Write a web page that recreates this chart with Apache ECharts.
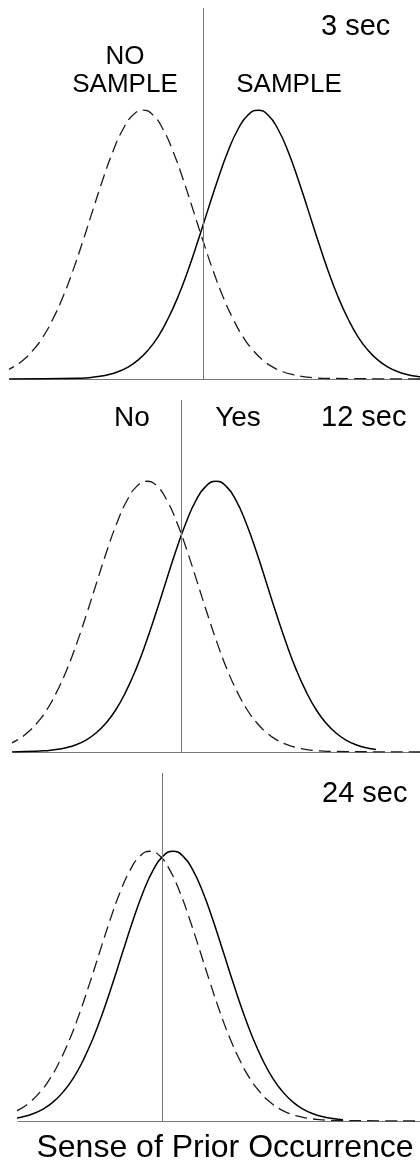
<!DOCTYPE html>
<html>
<head>
<meta charset="utf-8">
<script src="https://cdn.jsdelivr.net/npm/echarts@6/dist/echarts.min.js"></script>
<style>
html,body{margin:0;padding:0;background:#fff;}
#chart{width:420px;height:1164px;}
</style>
</head>
<body>
<div id="chart"></div>
<script>
// Panel titles and labels
const panelTitles = ['3 sec', '12 sec', '24 sec'];
const panel1Labels = ['NO\nSAMPLE', 'SAMPLE'];
const panel2Labels = ['No', 'Yes'];
const axisTitle = 'Sense of Prior Occurrence';

// criterion positions (x units)
const criteria = [20.3, 18.1, 16.2];

// Panel 1 (3 sec)
const p1NoX = [0.3,1.3,2.3,3.3,4.3,5.3,6.3,7.3,8.3,9.3,10.3,11.3,12.3,13.3,14.3,15.3,16.3,17.3,18.3,19.3,20.3,21.3,22.3,23.3,24.3,25.3,26.3,27.3,28.3,29.3,30.3,31.3,32.3,42];
const p1NoY = [2.7,4.4,7.0,10.7,15.7,22.4,30.6,40.4,51.4,63.0,74.4,84.7,92.9,98.2,100,98.2,92.9,84.7,74.4,63.0,51.4,40.4,30.6,22.4,15.7,10.7,7.0,4.4,2.7,1.6,0.9,0.5,0.25,0];
const p1YesX = [0.8,7.8,8.8,9.8,10.8,11.8,12.8,13.8,14.8,15.8,16.8,17.8,18.8,19.8,20.8,21.8,22.8,23.8,24.8,25.8,26.8,27.8,28.8,29.8,30.8,31.8,32.8,33.8,34.8,35.8,36.8,37.8,38.8,39.8,40.8,41.8,42.8];
const p1YesY = [0,0.25,0.5,0.9,1.6,2.7,4.4,7.0,10.7,15.7,22.4,30.6,40.4,51.4,63.0,74.4,84.7,92.9,98.2,100,98.2,92.9,84.7,74.4,63.0,51.4,40.4,30.6,22.4,15.7,10.7,7.0,4.4,2.7,1.6,0.9,0.5];

// Panel 2 (12 sec)
const p2NoX = [0.7,1.7,2.7,3.7,4.7,5.7,6.7,7.7,8.7,9.7,10.7,11.7,12.7,13.7,14.7,15.7,16.7,17.7,18.7,19.7,20.7,21.7,22.7,23.7,24.7,25.7,26.7,27.7,28.7,29.7,30.7,31.7,32.7,42];
const p2NoY = [2.7,4.4,7.0,10.7,15.7,22.4,30.6,40.4,51.4,63.0,74.4,84.7,92.9,98.2,100,98.2,92.9,84.7,74.4,63.0,51.4,40.4,30.6,22.4,15.7,10.7,7.0,4.4,2.7,1.6,0.9,0.5,0.25,0];
const p2YesX = [0.6,3.6,4.6,5.6,6.6,7.6,8.6,9.6,10.6,11.6,12.6,13.6,14.6,15.6,16.6,17.6,18.6,19.6,20.6,21.6,22.6,23.6,24.6,25.6,26.6,27.6,28.6,29.6,30.6,31.6,32.6,33.6,34.6,35.6,36.6,37.6];
const p2YesY = [0,0.25,0.5,0.9,1.6,2.7,4.4,7.0,10.7,15.7,22.4,30.6,40.4,51.4,63.0,74.4,84.7,92.9,98.2,100,98.2,92.9,84.7,74.4,63.0,51.4,40.4,30.6,22.4,15.7,10.7,7.0,4.4,2.7,1.6,0.9];

// Panel 3 (24 sec)
const p3NoX = [0,1,2,3,4,5,6,7,8,9,10,11,12,13,14,15,16,17,18,19,20,21,22,23,24,25,26,27,28,29,30,31,32,33,42];
const p3NoY = [1.6,2.7,4.4,7.0,10.7,15.7,22.4,30.6,40.4,51.4,63.0,74.4,84.7,92.9,98.2,100,98.2,92.9,84.7,74.4,63.0,51.4,40.4,30.6,22.4,15.7,10.7,7.0,4.4,2.7,1.6,0.9,0.5,0.25,0];
const p3YesX = [0.3,1.3,2.3,3.3,4.3,5.3,6.3,7.3,8.3,9.3,10.3,11.3,12.3,13.3,14.3,15.3,16.3,17.3,18.3,19.3,20.3,21.3,22.3,23.3,24.3,25.3,26.3,27.3,28.3,29.3,30.3,31.3,32.3,33.3,34.3];
const p3YesY = [0.5,0.9,1.6,2.7,4.4,7.0,10.7,15.7,22.4,30.6,40.4,51.4,63.0,74.4,84.7,92.9,98.2,100,98.2,92.9,84.7,74.4,63.0,51.4,40.4,30.6,22.4,15.7,10.7,7.0,4.4,2.7,1.6,0.9,0.5];

const zip = (xs, ys) => xs.map((x, i) => [x, ys[i]]);
const FONT = "'Liberation Sans', Arial, Helvetica, sans-serif";

const grids = [
  {left: 10, right: 0, top: 8, height: 371},
  {left: 13, right: 0, top: 400, height: 352},
  {left: 18, right: 0, top: 773, height: 348}
];
const xMins = [1.0, 1.3, 1.8];
const yMaxes = [138, 130, 129];

const xAxes = grids.map((g, i) => ({
  type: 'value', gridIndex: i, min: xMins[i], max: 42,
  axisLine: {show: true, onZero: false, lineStyle: {color: '#777', width: 1}},
  axisTick: {show: false}, axisLabel: {show: false}, splitLine: {show: false}
}));
const yAxes = grids.map((g, i) => ({
  type: 'value', gridIndex: i, min: 0, max: yMaxes[i], show: false
}));

const curves = [
  [zip(p1NoX, p1NoY), zip(p1YesX, p1YesY)],
  [zip(p2NoX, p2NoY), zip(p2YesX, p2YesY)],
  [zip(p3NoX, p3NoY), zip(p3YesX, p3YesY)]
];

const series = [];
curves.forEach((pair, i) => {
  series.push({
    type: 'line', xAxisIndex: i, yAxisIndex: i, data: pair[0],
    showSymbol: false, smooth: true, clip: true,
    lineStyle: {color: '#1a1a1a', width: 1.3, type: [12, 6]},
    markLine: {
      silent: true, symbol: ['none', 'none'], label: {show: false},
      lineStyle: {color: '#777', width: 1, type: 'solid'},
      data: [{xAxis: criteria[i]}]
    }
  });
  series.push({
    type: 'line', xAxisIndex: i, yAxisIndex: i, data: pair[1],
    showSymbol: false, smooth: true, clip: true,
    lineStyle: {color: '#000', width: 1.5, type: 'solid'}
  });
});

const txt = (text, x, y, size, align) => ({
  type: 'text', x: x, y: y,
  style: {text: text, fill: '#000', font: size + 'px ' + FONT, textAlign: align || 'left', textVerticalAlign: 'middle', lineHeight: 28}
});

const graphic = [
  txt(panelTitles[0], 321, 27, 29),
  txt(panel1Labels[0], 125, 71, 26, 'center'),
  txt(panel1Labels[1], 289, 85, 26, 'center'),
  txt(panel2Labels[0], 132, 418, 28, 'center'),
  txt(panel2Labels[1], 238, 418, 28, 'center'),
  txt(panelTitles[1], 321, 418, 29),
  txt(panelTitles[2], 322, 794, 29),
  txt(axisTitle, 225, 1148, 32, 'center')
];

const chart = echarts.init(document.getElementById('chart'), null, {renderer: 'canvas'});
chart.setOption({
  animation: false,
  backgroundColor: '#fff',
  grid: grids,
  xAxis: xAxes,
  yAxis: yAxes,
  series: series,
  graphic: graphic
});
</script>
</body>
</html>
